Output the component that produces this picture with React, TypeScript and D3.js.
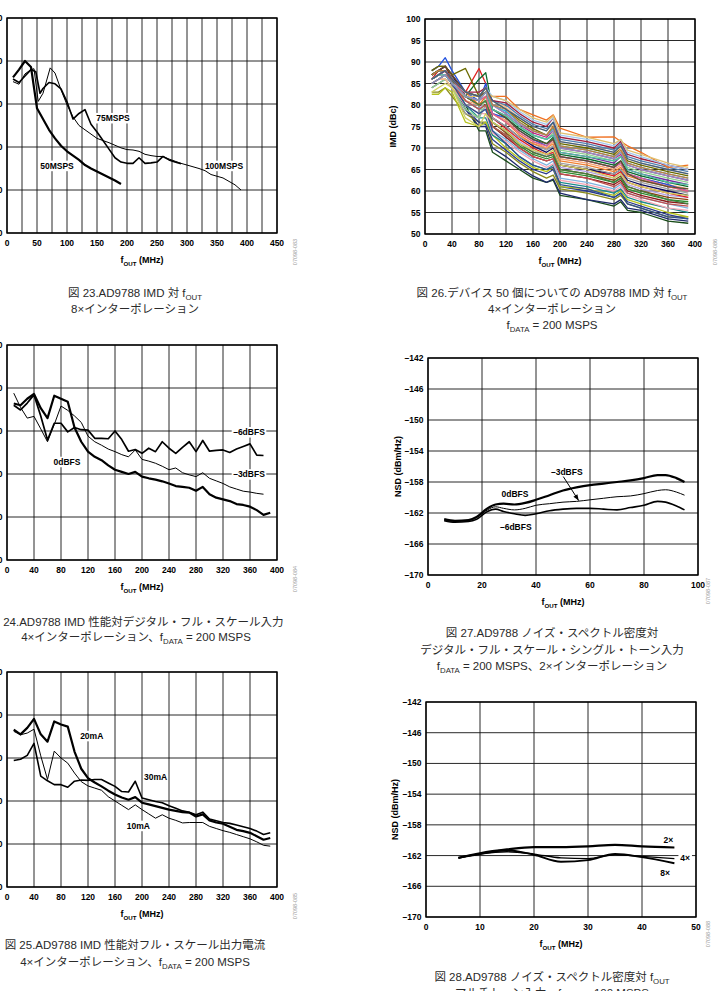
import React from 'react';
import * as d3 from 'd3';

// ---------------- DATA ----------------
// Fig 23: IMD vs fOUT, 8x interpolation
const F23_X50 = [10, 20, 30, 40, 50, 60, 70, 80, 90, 100, 110, 120, 130, 140, 150, 160, 170, 180, 190];
const F23_50MSPS = [86.2, 88, 90, 88.6, 79, 76.5, 74, 72, 70.3, 69, 68, 67, 65.8, 65, 64.3, 63.6, 62.9, 62.2, 61.4];
const F23_X75 = [10, 20, 30, 40, 48, 55, 60, 70, 80, 90, 100, 110, 120, 130, 140, 150, 160, 170, 180, 190, 200, 210, 220, 230, 240, 250, 260, 270, 280, 290];
const F23_75MSPS = [85.8, 85, 86.5, 88, 87.5, 82.5, 83.6, 85, 84.7, 83.5, 80.5, 76.5, 77.8, 78.7, 75.3, 73.5, 71.5, 69.5, 67.5, 66.5, 66.2, 66.2, 67.5, 66.2, 66.3, 66.5, 67.8, 67, 66.5, 66.1];
const F23_X100 = [10, 20, 30, 40, 45, 52, 60, 72, 80, 90, 100, 110, 120, 130, 140, 150, 160, 170, 180, 190, 200, 210, 220, 230, 240, 250, 260, 270, 280, 290, 300, 310, 320, 330, 340, 350, 360, 370, 380, 390];
const F23_100MSPS = [85.2, 84.6, 87, 88, 88.2, 80.6, 82.5, 88.4, 87.2, 83.3, 79.8, 77, 75, 74, 73, 72, 71.5, 71, 70.4, 69.8, 69.4, 69.3, 69, 68.3, 68, 67.8, 67.8, 67.2, 66.7, 66.2, 65.8, 65.4, 65, 64.5, 63.6, 63.2, 62.8, 62, 61.2, 60];

// Fig 26: IMD vs fOUT for 50 devices
const F26_X = [10, 20, 30, 40, 60, 80, 90, 100, 120, 140, 160, 180, 190, 200, 240, 280, 290, 300, 320, 360, 390];
const F26_DEVICES = [
  [85, 86, 87, 85, 80, 74, 74, 69, 67, 65, 63, 62, 62.5, 59, 58, 56.5, 57.5, 55.5, 55, 53, 52.5],
  [84, 85, 86, 84, 79, 75, 75, 70, 68, 65.5, 63.5, 62, 62.8, 59.5, 58, 57, 58, 56, 55.5, 53.5, 53],
  [83, 83, 84, 82, 78, 76, 76, 71, 69, 66.5, 64.5, 63, 63.7, 60.5, 59.5, 58, 59, 57, 56, 54, 54],
  [86, 87, 88, 85, 79, 76, 75.5, 72, 69.5, 67, 65, 64, 65, 61, 60, 58.5, 59.5, 57.5, 56.5, 54.5, 53.5],
  [82.5, 82.5, 84, 83, 76, 75, 76, 73, 70, 67.5, 65.5, 64.5, 65.5, 61, 60.5, 59, 60, 58, 57, 55, 54],
  [87, 88, 88, 86, 80, 77, 77, 73, 71, 68, 66, 65, 66, 62, 61, 59.5, 60.5, 58.5, 57.5, 56, 55],
  [85, 86, 86, 84, 80, 78, 78, 73.5, 71.5, 69, 67, 65.5, 66.3, 62.5, 61.5, 60, 61, 59, 58, 56, 55.5],
  [86, 87, 87, 85, 81, 79, 79, 74, 72, 69.5, 67.5, 66, 67, 63, 62, 60.5, 61.5, 59.5, 58.5, 57, 56],
  [87, 88, 89, 86, 82, 80, 80, 75, 72.5, 70, 68, 67, 67.5, 64, 63, 61.5, 62.5, 60, 59, 57.5, 57],
  [86, 87, 88, 86, 81, 79, 80, 75, 73, 70.5, 68.5, 67.5, 68, 64.5, 63.5, 62, 63, 60.5, 59.5, 58, 57.5],
  [88, 89, 89, 87, 82, 80, 81, 76, 73.5, 71, 69, 68, 68.5, 65, 64, 62.5, 63.5, 61, 60, 58.5, 58],
  [85, 86, 87, 85, 81, 79, 81, 76, 74, 71.5, 69.5, 68, 69, 65.5, 64.5, 63, 64, 61.5, 60.5, 59, 58.5],
  [86, 88, 89, 87, 83, 88.5, 85, 77, 74.5, 72, 70, 68.5, 69, 66, 65, 63.5, 64.5, 62, 61, 59.5, 58.5],
  [87, 88, 89, 87, 82, 80, 81, 77, 75, 72.5, 70.5, 69, 70, 66, 65, 64, 65, 62.5, 61.5, 60, 59],
  [84, 85, 86, 84, 78, 77, 80, 77, 75, 72.5, 71, 69.5, 70.5, 66.5, 65.5, 64, 65, 63, 62, 60.5, 59.5],
  [86, 87, 87, 85, 82, 80, 81, 78, 76, 73, 71, 70, 71, 67, 66, 64.5, 65.5, 63.5, 62.5, 61, 60],
  [85, 86, 86, 84, 81, 80, 81, 78, 76.5, 73.5, 71.5, 70, 71.5, 67.5, 66.5, 65, 66, 64, 63, 61.5, 60.5],
  [88, 89, 91, 88, 83, 81, 85, 78, 77, 74, 72, 70.5, 72, 68, 67, 65.5, 66.5, 64, 63, 61.5, 60],
  [87, 88, 88, 86, 82, 86, 87.5, 79, 77, 74.5, 72.5, 71, 72.5, 68.5, 67.5, 66, 67, 64.5, 63.5, 62, 61],
  [86, 87, 88, 86, 83, 82, 84, 79, 77.5, 75, 73, 72, 73, 69, 68, 66.5, 68, 65, 64, 62.5, 61.5],
  [84, 85, 86, 84, 79, 77, 82, 79, 77.5, 75, 73, 72, 73.5, 69.5, 68.5, 67, 68, 65.5, 64.5, 63, 62],
  [86, 87, 88, 86, 82, 81, 83, 80, 78, 75.5, 73.5, 72.5, 74, 70, 69, 67.5, 68.5, 66, 65, 63.5, 62.5],
  [87, 88, 88, 86, 83, 82, 84, 80, 78.5, 76, 74, 73, 74.5, 70.5, 69.5, 68, 69, 66.5, 65.5, 64, 63],
  [88, 89, 89, 87, 88.5, 82, 83, 81, 79, 76.5, 74.5, 73, 75, 71, 70, 68.5, 70, 67, 66, 64.5, 63.5],
  [85, 86, 86, 84, 82, 81, 83, 81, 79.5, 77, 75, 74, 75.5, 71.5, 70.5, 69, 70, 67.5, 66.5, 65, 64],
  [86, 87, 88, 86, 83, 82, 84, 81, 80, 77.5, 75.5, 74.5, 76, 72, 71, 69.5, 71, 68, 67, 65.5, 64.5],
  [86, 87, 87, 85, 83, 80, 82, 82, 82, 79, 77.7, 76.5, 77.7, 74.6, 72.5, 72.6, 71.5, 70.5, 69, 65.5, 66],
  [87, 88, 88, 86, 83, 83, 84, 81, 80.5, 78, 76, 75, 77, 72.5, 71.5, 70, 71.5, 68.5, 67.5, 66, 65],
  [86, 87, 87, 85, 83, 82, 84, 82, 81, 78.5, 76.5, 75.5, 77, 73, 72, 70.5, 72, 69, 68, 66, 65],
  [85, 86, 87, 85, 82, 82, 83, 82, 81, 79, 77, 76, 77.5, 73.5, 72.5, 71, 72, 69.5, 68.5, 66.5, 65.5],
  [87, 88, 88, 86, 82, 80, 81, 76, 74, 71, 69, 68, 68.5, 65, 64, 62, 63, 61, 60, 58, 57],
  [86, 87, 88, 85, 81, 79, 80, 75, 73, 70, 68, 67, 67.5, 64, 63, 61, 62, 59.5, 58.5, 57, 56.5],
  [85, 86, 87, 85, 80, 78, 79, 74, 71, 68, 66, 65, 65.5, 61.5, 60.5, 58.5, 59.5, 57, 56, 54, 53.5],
  [83, 84, 85, 84, 77, 75, 78, 76, 74, 71, 69.5, 68.5, 69.5, 66, 65, 63, 64, 62, 61, 59.5, 59],
  [86, 87, 88, 86, 82, 81, 82, 78, 76, 73.5, 71.5, 70.5, 72, 68, 67, 65.5, 66.5, 64, 63, 61, 60],
  [87, 88, 89, 87, 83, 82, 83, 79, 77, 74, 72, 71, 72, 68, 67, 65.5, 67, 64, 62.5, 61, 60.5],
  [86, 87, 87, 85, 82, 81, 83, 79, 77.5, 75, 73, 72, 73, 69, 68, 67, 68, 65, 64, 62, 61.5],
  [85, 86, 87, 85, 82, 81, 83, 80, 78, 75.5, 74, 73, 74, 70, 69, 67.5, 69, 66, 65, 63.5, 62.5],
  [87, 88, 88, 86, 83, 82, 84, 80, 79, 76, 74, 73, 75, 70.5, 69.5, 68, 69.5, 66.5, 65.5, 64, 63],
  [86, 87, 88, 86, 83, 82, 84, 81, 79, 77, 75, 74, 76, 71.5, 70.5, 69, 70.5, 67.5, 66.5, 65, 64],
];
const F26_COLORS = [
  '#1a4d1a', '#1f2a6b', '#8a8a1a', '#2b3a8c', '#b5c21e', '#1b8a8a', '#f4a6b6', '#7fb3e0', '#8b1a1a', '#2e8b2e',
  '#8b4513', '#b0a0e0', '#e02020', '#101060', '#a0a0a0', '#f08030', '#f4a070', '#2050e0', '#0a6a2a', '#7030a0',
  '#90d090', '#c02080', '#30b0e0', '#6b6b00', '#f8c090', '#5080b0', '#f07020', '#a02040', '#a0c8f0', '#e0c070',
  '#408040', '#c05050', '#305090', '#d0d060', '#e06090', '#605030', '#50c0a0', '#9090c0', '#c08040', '#406080',
];

// Fig 24: IMD vs digital full scale
const F24_X = [10, 20, 30, 40, 50, 60, 70, 80, 90, 100, 110, 120, 130, 140, 150, 160, 170, 180, 190, 200, 210, 220, 230, 240, 250, 260, 270, 280, 290, 300, 310, 320, 330, 340, 350, 360, 370, 380, 390];
const F24_0DBFS = [86.4, 86, 87.5, 88.6, 85.3, 83, 88.2, 87.5, 86.8, 80.8, 77.5, 75.2, 74, 73.2, 72, 71, 70.5, 70, 70.5, 69.4, 69, 68.7, 68.3, 67.8, 67.2, 67, 66.8, 66.1, 67, 65.3, 64.5, 64.1, 63.7, 63, 62.8, 62.4, 61.6, 60.5, 61];
const F24_X6 = [10, 20, 30, 40, 50, 60, 70, 80, 90, 100, 110, 120, 130, 140, 150, 160, 170, 180, 190, 200, 210, 220, 230, 240, 250, 260, 270, 280, 290, 300, 310, 320, 330, 340, 350, 360, 370, 380];
const F24_M6DBFS = [86, 84.9, 86.5, 88.4, 83.5, 77.9, 81.8, 81.8, 79.8, 80.8, 80.3, 80.2, 78.3, 78.3, 78.2, 80, 78, 75.3, 75.7, 74.8, 76, 75.2, 77.5, 76, 74.8, 76.2, 77.5, 75.2, 77.8, 75.3, 75.5, 75.6, 75, 75.8, 76.4, 77, 74.4, 74.3];
const F24_M3DBFS = [88.8, 85.5, 83, 83.4, 80.5, 77.5, 81.5, 85.8, 84.8, 83.5, 82, 78.8, 77.5, 76.7, 75.8, 75.2, 74.5, 74, 75.6, 73.4, 73, 72.5, 71.8, 71, 71.4, 70.3, 69.8, 69.4, 70.3, 69, 68.4, 67.8, 67, 66.5, 66, 65.8, 65.5, 65.3];

// Fig 25: IMD vs full-scale output current
const F25_X = [10, 20, 30, 40, 50, 60, 70, 80, 90, 100, 110, 120, 130, 140, 150, 160, 170, 180, 190, 200, 210, 220, 230, 240, 250, 260, 270, 280, 290, 300, 310, 320, 330, 340, 350, 360, 370, 380, 390];
const F25_20MA = [86.6, 85.5, 87, 89.1, 85.5, 83.8, 88.5, 87.8, 87.3, 81.5, 77.5, 75.3, 74.3, 73.4, 72.4, 71.5, 70.8, 70.3, 70.9, 69.6, 69.2, 68.8, 68.4, 68, 67.7, 67.4, 67.3, 66.4, 66.9, 65.5, 65, 64.7, 64, 63.3, 63, 62.6, 61.8, 61, 61.4];
const F25_30MA = [79.4, 79.7, 80.6, 83.4, 75.8, 74.7, 73.8, 73.8, 73.2, 74.6, 74.9, 74.8, 75, 75, 74.2, 73.4, 72.2, 72.1, 74.6, 70.7, 70.3, 69.9, 69.6, 68.9, 68.3, 67.7, 67.4, 66.8, 67.4, 65.8, 65.4, 65, 64.8, 64.4, 64, 63.6, 63, 62.2, 62.6];
const F25_10MA = [86.2, 85.4, 85.8, 86.7, 80.5, 75, 81.6, 80, 78.8, 76.5, 74.5, 73.5, 73, 72.5, 71, 70, 69, 68, 69.1, 68, 67, 66, 66.8, 66, 65.5, 64.9, 65, 65, 65, 64.1, 63.6, 63.1, 62.7, 62.2, 61.7, 61.2, 60.5, 59.7, 59.5];

// Fig 27: NSD vs digital full scale
const F27_X = [6, 10, 15, 18, 22, 25, 28, 32, 36, 40, 45, 50, 55, 60, 65, 70, 75, 80, 85, 88, 92, 95];
const F27_0DBFS = [-162.8, -163, -162.9, -162.5, -161.4, -160.9, -160.8, -160.9, -160.7, -160.3, -159.7, -159.1, -158.7, -158.4, -158.2, -158, -157.8, -157.5, -157.1, -157.1, -157.5, -158];
const F27_M3DBFS = [-162.9, -163.1, -163, -162.6, -161.6, -161.2, -161.4, -161.6, -161.4, -161, -160.8, -160.6, -160.5, -160.3, -160.1, -159.9, -159.8, -159.5, -159.1, -159, -159.3, -159.7];
const F27_M6DBFS = [-163, -163.2, -163.1, -162.8, -161.8, -161.5, -161.8, -162.1, -162.3, -162.1, -161.7, -161.5, -161.4, -161.4, -161.5, -161.6, -161.3, -161, -160.5, -160.6, -161.1, -161.6];

// Fig 28: NSD vs fOUT, multitone
const F28_X = [6, 10, 15, 20, 25, 30, 35, 40, 46];
const F28_2X = [-162.3, -161.7, -161.2, -160.9, -160.9, -160.8, -160.6, -160.8, -160.95];
const F28_4X = [-162.3, -161.8, -161.5, -161.8, -162.3, -162.4, -161.9, -162.1, -162.4];
const F28_8X = [-162.3, -161.8, -161.3, -161.9, -162.8, -162.6, -161.8, -162.2, -163];

// tick values
const TICKS_450 = [0, 50, 100, 150, 200, 250, 300, 350, 400, 450];
const TICKS_400 = [0, 40, 80, 120, 160, 200, 240, 280, 320, 360, 400];
const TICKS_100 = [0, 20, 40, 60, 80, 100];
const TICKS_50 = [0, 10, 20, 30, 40, 50];
const TICKS_IMD10 = [50, 60, 70, 80, 90, 100];
const TICKS_IMD5 = [50, 55, 60, 65, 70, 75, 80, 85, 90, 95, 100];
const TICKS_NSD = [-170, -166, -162, -158, -154, -150, -146, -142];

// captions: [text, isSubscript]
type Seg = [string, boolean?];
const CAP_23: Seg[][] = [[['図 23.AD9788 IMD 対 f'], ['OUT', true]], [['8×インターポレーション']]];
const CAP_26: Seg[][] = [[['図 26.デバイス 50 個についての AD9788 IMD 対 f'], ['OUT', true]], [['4×インターポレーション']], [['f'], ['DATA', true], [' = 200 MSPS']]];
const CAP_24: Seg[][] = [[['図 24.AD9788 IMD 性能対デジタル・フル・スケール入力']], [['4×インターポレーション、f'], ['DATA', true], [' = 200 MSPS']]];
const CAP_27: Seg[][] = [[['図 27.AD9788 ノイズ・スペクトル密度対']], [['デジタル・フル・スケール・シングル・トーン入力']], [['f'], ['DATA', true], [' = 200 MSPS、2×インターポレーション']]];
const CAP_25: Seg[][] = [[['図 25.AD9788 IMD 性能対フル・スケール出力電流']], [['4×インターポレーション、f'], ['DATA', true], [' = 200 MSPS']]];
const CAP_28: Seg[][] = [[['図 28.AD9788 ノイズ・スペクトル密度対 f'], ['OUT', true]], [['マルチトーン入力、f'], ['DATA', true], [' = 100 MSPS']]];

// ---------------- RENDERING ----------------
const LATIN = '"Liberation Sans", Arial, Helvetica, sans-serif';
const CJK = '"Liberation Sans", Arial, "Noto Sans CJK JP", sans-serif';

function Rich({ x, y, segs, size, anchor = 'middle', weight = 'normal', fill = '#000', transform }: any) {
  const out: any[] = [];
  let sub = false;
  segs.forEach((s: Seg, i: number) => {
    const isSub = !!s[1];
    let dy = 0;
    if (isSub && !sub) dy = size * 0.28;
    if (!isSub && sub) dy = -size * 0.28;
    sub = isSub;
    out.push(
      <tspan key={i} dy={dy} fontSize={isSub ? size * 0.68 : size}>
        {s[0]}
      </tspan>
    );
  });
  return (
    <text x={x} y={y} fontSize={size} textAnchor={anchor} fontWeight={weight} fill={fill} fontFamily={CJK} transform={transform}>
      {out}
    </text>
  );
}

type SeriesCfg = { x: number[]; y: number[]; w: number; color?: string };
type LabelCfg = { t: string; x: number; y: number };

function Panel(p: any) {
  const { left, top, width, height, xDomain, yDomain, xGrid, yGrid, xTicks, yTicks, series, labels, curve, caption, capX, capY, capStep, wm, wmX, wmY, yTitle, yTitleX, arrow } = p;
  const xs = d3.scaleLinear().domain(xDomain).range([left, left + width]);
  const ys = d3.scaleLinear().domain(yDomain).range([top + height, top]);
  const xg = d3.range(xDomain[0], xDomain[1] + 1e-6, xGrid);
  const yg = d3.range(yDomain[0], yDomain[1] + 1e-6, yGrid);
  const line = d3
    .line<[number, number]>()
    .x((d) => xs(d[0]))
    .y((d) => ys(d[1]))
    .curve(curve || d3.curveLinear);
  const fmt = (v: number) => (v < 0 ? '–' + Math.abs(v) : String(v));
  const fs = 8.5;
  const bottom = top + height;
  return (
    <g>
      {xg.map((v: number) => (
        <line key={'xg' + v} x1={xs(v)} x2={xs(v)} y1={top} y2={bottom} stroke="#111" strokeWidth={0.9} />
      ))}
      {yg.map((v: number) => (
        <line key={'yg' + v} x1={left} x2={left + width} y1={ys(v)} y2={ys(v)} stroke="#111" strokeWidth={0.9} />
      ))}
      {labels &&
        labels.map((l: LabelCfg, i: number) => {
          const w = l.t.length * fs * 0.62 + 3;
          return <rect key={'lb' + i} x={xs(l.x) - w / 2} y={ys(l.y) - fs * 0.62} width={w} height={fs * 1.24} fill="#fff" />;
        })}
      {series.map((s: SeriesCfg, i: number) => (
        <path
          key={'s' + i}
          d={line(s.x.map((v, j) => [v, s.y[j]] as [number, number])) || ''}
          fill="none"
          stroke={s.color || '#000'}
          strokeWidth={s.w}
          strokeLinejoin="round"
        />
      ))}
      <rect x={left} y={top} width={width} height={height} fill="none" stroke="#000" strokeWidth={1.4} />
      {labels &&
        labels.map((l: LabelCfg, i: number) => (
          <text key={'lt' + i} x={xs(l.x)} y={ys(l.y) + fs * 0.36} fontSize={fs} fontWeight="bold" fontFamily={LATIN} textAnchor="middle">
            {l.t}
          </text>
        ))}
      {arrow && (
        <g>
          <line x1={xs(arrow[0])} y1={ys(arrow[1])} x2={xs(arrow[2])} y2={ys(arrow[3])} stroke="#000" strokeWidth={1} />
          {(() => {
            const x2 = xs(arrow[2]);
            const y2 = ys(arrow[3]);
            const ang = Math.atan2(y2 - ys(arrow[1]), x2 - xs(arrow[0]));
            const L = 6;
            const W = 2.4;
            const bx = x2 - L * Math.cos(ang);
            const by = y2 - L * Math.sin(ang);
            const px = -Math.sin(ang) * W;
            const py = Math.cos(ang) * W;
            return <path d={`M${x2},${y2}L${bx + px},${by + py}L${bx - px},${by - py}Z`} fill="#000" />;
          })()}
        </g>
      )}
      {xTicks.map((v: number) => (
        <text key={'xt' + v} x={xs(v)} y={bottom + 13} fontSize={fs} fontWeight="bold" fontFamily={LATIN} textAnchor="middle">
          {fmt(v)}
        </text>
      ))}
      {yTicks.map((v: number) => (
        <text key={'yt' + v} x={left - 4.5} y={ys(v) + 3} fontSize={fs} fontWeight="bold" fontFamily={LATIN} textAnchor="end">
          {fmt(v)}
        </text>
      ))}
      <Rich x={left + width / 2} y={bottom + 30} segs={[['f'], ['OUT', true], [' (MHz)']]} size={9} weight="bold" />
      {yTitle && (
        <text
          transform={`translate(${yTitleX},${top + height / 2}) rotate(-90)`}
          fontSize={9}
          fontWeight="bold"
          fontFamily={LATIN}
          textAnchor="middle"
          dy={3}
        >
          {yTitle}
        </text>
      )}
      <text transform={`translate(${wmX},${wmY}) rotate(-90)`} fontSize={5.5} fill="#9a9a9a" fontFamily={LATIN} textAnchor="middle">
        {wm}
      </text>
      {caption.map((segs: Seg[], i: number) => (
        <Rich key={'c' + i} x={capX} y={capY + i * capStep} segs={segs} size={11.5} fill="#2a2a2a" />
      ))}
    </g>
  );
}

export default function App() {
  const panels = [
    {
      left: 7, top: 18, width: 270, height: 215,
      xDomain: [0, 450], yDomain: [50, 100], xGrid: 25, yGrid: 10,
      xTicks: TICKS_450, yTicks: TICKS_IMD10,
      series: [
        { x: F23_X100, y: F23_100MSPS, w: 1 },
        { x: F23_X75, y: F23_75MSPS, w: 1.6 },
        { x: F23_X50, y: F23_50MSPS, w: 2.2 },
      ],
      labels: [
        { t: '75MSPS', x: 176.7, y: 76.7 },
        { t: '50MSPS', x: 83.3, y: 65.6 },
        { t: '100MSPS', x: 361.7, y: 65.6 },
      ],
      caption: CAP_23, capX: 135, capY: 297, capStep: 16,
      wm: '07098-083', wmX: 297, wmY: 252,
    },
    {
      left: 425, top: 19, width: 270, height: 215,
      xDomain: [0, 400], yDomain: [50, 100], xGrid: 40, yGrid: 5,
      xTicks: TICKS_400, yTicks: TICKS_IMD5,
      series: F26_DEVICES.map((d, i) => ({ x: F26_X, y: d, w: 1.3, color: F26_COLORS[i] })),
      labels: [],
      yTitle: 'IMD (dBc)', yTitleX: 393,
      caption: CAP_26, capX: 552, capY: 297, capStep: 16,
      wm: '07098-086', wmX: 717, wmY: 252,
    },
    {
      left: 7, top: 345, width: 270, height: 215,
      xDomain: [0, 400], yDomain: [50, 100], xGrid: 40, yGrid: 10,
      xTicks: TICKS_400, yTicks: TICKS_IMD10,
      series: [
        { x: F24_X, y: F24_M3DBFS, w: 1 },
        { x: F24_X6, y: F24_M6DBFS, w: 1.7 },
        { x: F24_X, y: F24_0DBFS, w: 2.2 },
      ],
      labels: [
        { t: '0dBFS', x: 88.9, y: 72.8 },
        { t: '–6dBFS', x: 358.5, y: 79.7 },
        { t: '–3dBFS', x: 358.5, y: 69.9 },
      ],
      caption: CAP_24, capX: 136, capY: 626, capStep: 15,
      wm: '07098-084', wmX: 297, wmY: 579,
    },
    {
      left: 428, top: 358, width: 270, height: 217,
      xDomain: [0, 100], yDomain: [-170, -142], xGrid: 20, yGrid: 4,
      xTicks: TICKS_100, yTicks: TICKS_NSD,
      curve: d3.curveMonotoneX,
      series: [
        { x: F27_X, y: F27_M6DBFS, w: 1.6 },
        { x: F27_X, y: F27_M3DBFS, w: 1 },
        { x: F27_X, y: F27_0DBFS, w: 2.2 },
      ],
      labels: [
        { t: '–3dBFS', x: 51.4, y: -156.7 },
        { t: '0dBFS', x: 32.2, y: -159.5 },
        { t: '–6dBFS', x: 32.5, y: -163.8 },
      ],
      arrow: [50.1, -157.3, 55.8, -160.4],
      yTitle: 'NSD (dBm/Hz)', yTitleX: 398,
      caption: CAP_27, capX: 552, capY: 637, capStep: 16.5,
      wm: '07098-087', wmX: 710, wmY: 591,
    },
    {
      left: 7, top: 672, width: 270, height: 215,
      xDomain: [0, 400], yDomain: [50, 100], xGrid: 40, yGrid: 10,
      xTicks: TICKS_400, yTicks: TICKS_IMD10,
      series: [
        { x: F25_X, y: F25_10MA, w: 1 },
        { x: F25_X, y: F25_30MA, w: 1.6 },
        { x: F25_X, y: F25_20MA, w: 2.2 },
      ],
      labels: [
        { t: '20mA', x: 125.5, y: 85.1 },
        { t: '30mA', x: 220.2, y: 75.6 },
        { t: '10mA', x: 194.6, y: 64.2 },
      ],
      caption: CAP_25, capX: 135, capY: 949, capStep: 16.5,
      wm: '07098-085', wmX: 297, wmY: 906,
    },
    {
      left: 426, top: 702, width: 270, height: 215,
      xDomain: [0, 50], yDomain: [-170, -142], xGrid: 10, yGrid: 4,
      xTicks: TICKS_50, yTicks: TICKS_NSD,
      curve: d3.curveMonotoneX,
      series: [
        { x: F28_X, y: F28_4X, w: 1.3 },
        { x: F28_X, y: F28_8X, w: 1.9 },
        { x: F28_X, y: F28_2X, w: 2.2 },
      ],
      labels: [
        { t: '2×', x: 44.9, y: -159.9 },
        { t: '4×', x: 48, y: -162.35 },
        { t: '8×', x: 44.3, y: -164.2 },
      ],
      yTitle: 'NSD (dBm/Hz)', yTitleX: 395,
      caption: CAP_28, capX: 552, capY: 981, capStep: 16,
      wm: '07098-088', wmX: 710, wmY: 934,
    },
  ];
  return (
    <svg
      width={719}
      height={991}
      viewBox="0 0 719 991"
      style={{ position: 'absolute', left: 0, top: 0, background: '#fff', display: 'block' }}
    >
      <rect x={0} y={0} width={719} height={991} fill="#fff" />
      {panels.map((p, i) => (
        <Panel key={i} {...p} />
      ))}
    </svg>
  );
}
